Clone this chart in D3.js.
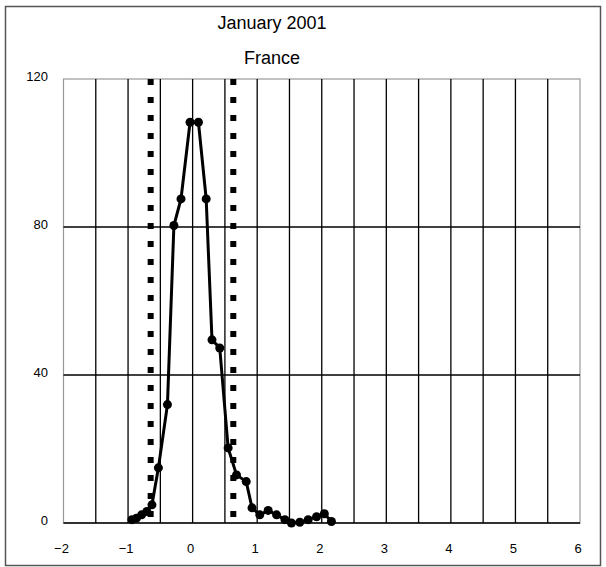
<!DOCTYPE html>
<html>
<head>
<meta charset="utf-8">
<script src="https://cdn.jsdelivr.net/npm/d3@7"></script>
<style>
  body { margin: 0; background: #fff; }
  svg { display: block; font-family: "Liberation Sans", "DejaVu Sans", sans-serif; }
</style>
</head>
<body>
<div id="chart"></div>
<script>
// values
var xValues = [-0.94, -0.87, -0.79, -0.71, -0.63, -0.53, -0.39, -0.29, -0.18, -0.04, 0.09,
               0.21, 0.30, 0.42, 0.55, 0.68, 0.83, 0.92, 1.04, 1.17, 1.30, 1.43, 1.53,
               1.66, 1.79, 1.92, 2.04, 2.15];
var yValues = [0.9, 1.3, 2.2, 3.1, 4.9, 14.9, 32, 80.4, 87.6, 108.3, 108.3,
               87.6, 49.5, 47.3, 20.3, 13, 11.2, 4.1, 2.2, 3.4, 2.2, 0.9, 0,
               0.2, 0.9, 1.7, 2.5, 0.4];
var cutoffs = [-0.65, 0.63];
var xTicks = [-2, -1, 0, 1, 2, 3, 4, 5, 6];
var xGrid = d3.range(-2, 6.01, 0.5);
var yTicks = [0, 40, 80, 120];
var titleLines = ['January 2001', 'France'];

var width = 606, height = 567;
var margin = {top: 79, right: 26, bottom: 44, left: 63.5};

var svg = d3.select('#chart').append('svg')
    .attr('width', width)
    .attr('height', height);

// outer frame
svg.append('rect')
    .attr('x', 5.5).attr('y', 6.5)
    .attr('width', 595).attr('height', 559)
    .attr('fill', 'none')
    .attr('stroke', '#555')
    .attr('stroke-width', 1.5);

var x = d3.scaleLinear().domain([-2, 6]).range([margin.left, width - margin.right]);
var y = d3.scaleLinear().domain([0, 120]).range([height - margin.bottom, margin.top]);

// plot border (light)
svg.append('rect')
    .attr('x', x(-2)).attr('y', y(120))
    .attr('width', x(6) - x(-2)).attr('height', y(0) - y(120))
    .attr('fill', 'none')
    .attr('stroke', '#999')
    .attr('stroke-width', 1.2);

// gridlines
svg.selectAll('line.vgrid')
    .data(xGrid.filter(d => d > -2 && d < 6))
    .enter().append('line')
    .attr('class', 'vgrid')
    .attr('x1', d => x(d)).attr('x2', d => x(d))
    .attr('y1', y(120)).attr('y2', y(0))
    .attr('stroke', '#000')
    .attr('stroke-width', 1.3);

svg.selectAll('line.hgrid')
    .data(yTicks.filter(d => d > 0 && d < 120))
    .enter().append('line')
    .attr('class', 'hgrid')
    .attr('x1', x(-2)).attr('x2', x(6))
    .attr('y1', d => y(d)).attr('y2', d => y(d))
    .attr('stroke', '#000')
    .attr('stroke-width', 1.3);

// x axis baseline
svg.append('line')
    .attr('x1', x(-2)).attr('x2', x(6))
    .attr('y1', y(0)).attr('y2', y(0))
    .attr('stroke', '#000')
    .attr('stroke-width', 1.5);

// dotted cutoff lines
svg.selectAll('line.cut')
    .data(cutoffs)
    .enter().append('line')
    .attr('class', 'cut')
    .attr('x1', d => x(d)).attr('x2', d => x(d))
    .attr('y1', y(120)).attr('y2', y(0))
    .attr('stroke', '#000')
    .attr('stroke-width', 6)
    .attr('stroke-dasharray', '6,12');

// axis labels
svg.selectAll('text.xlab')
    .data(xTicks)
    .enter().append('text')
    .attr('class', 'xlab')
    .attr('x', d => x(d) - 2)
    .attr('y', y(0) + 30)
    .attr('text-anchor', 'middle')
    .attr('font-size', 13)
    .text(d => d < 0 ? '\u2212' + Math.abs(d) : d);

svg.selectAll('text.ylab')
    .data(yTicks)
    .enter().append('text')
    .attr('class', 'ylab')
    .attr('x', 48)
    .attr('y', d => y(d) + 2)
    .attr('text-anchor', 'end')
    .attr('font-size', 13)
    .text(d => d);

// series line + markers
var pts = xValues.map((v, i) => ({x: v, y: yValues[i]}));
var line = d3.line().x(d => x(d.x)).y(d => y(d.y));

svg.append('path')
    .datum(pts)
    .attr('d', line)
    .attr('fill', 'none')
    .attr('stroke', '#000')
    .attr('stroke-width', 3);

svg.selectAll('circle.pt')
    .data(pts)
    .enter().append('circle')
    .attr('class', 'pt')
    .attr('cx', d => x(d.x))
    .attr('cy', d => y(d.y))
    .attr('r', 4.5)
    .attr('fill', '#000');

// title
svg.selectAll('text.title')
    .data(titleLines)
    .enter().append('text')
    .attr('class', 'title')
    .attr('x', 272)
    .attr('y', (d, i) => 29 + i * 35)
    .attr('text-anchor', 'middle')
    .attr('font-size', 18)
    .text(d => d);
</script>
</body>
</html>
